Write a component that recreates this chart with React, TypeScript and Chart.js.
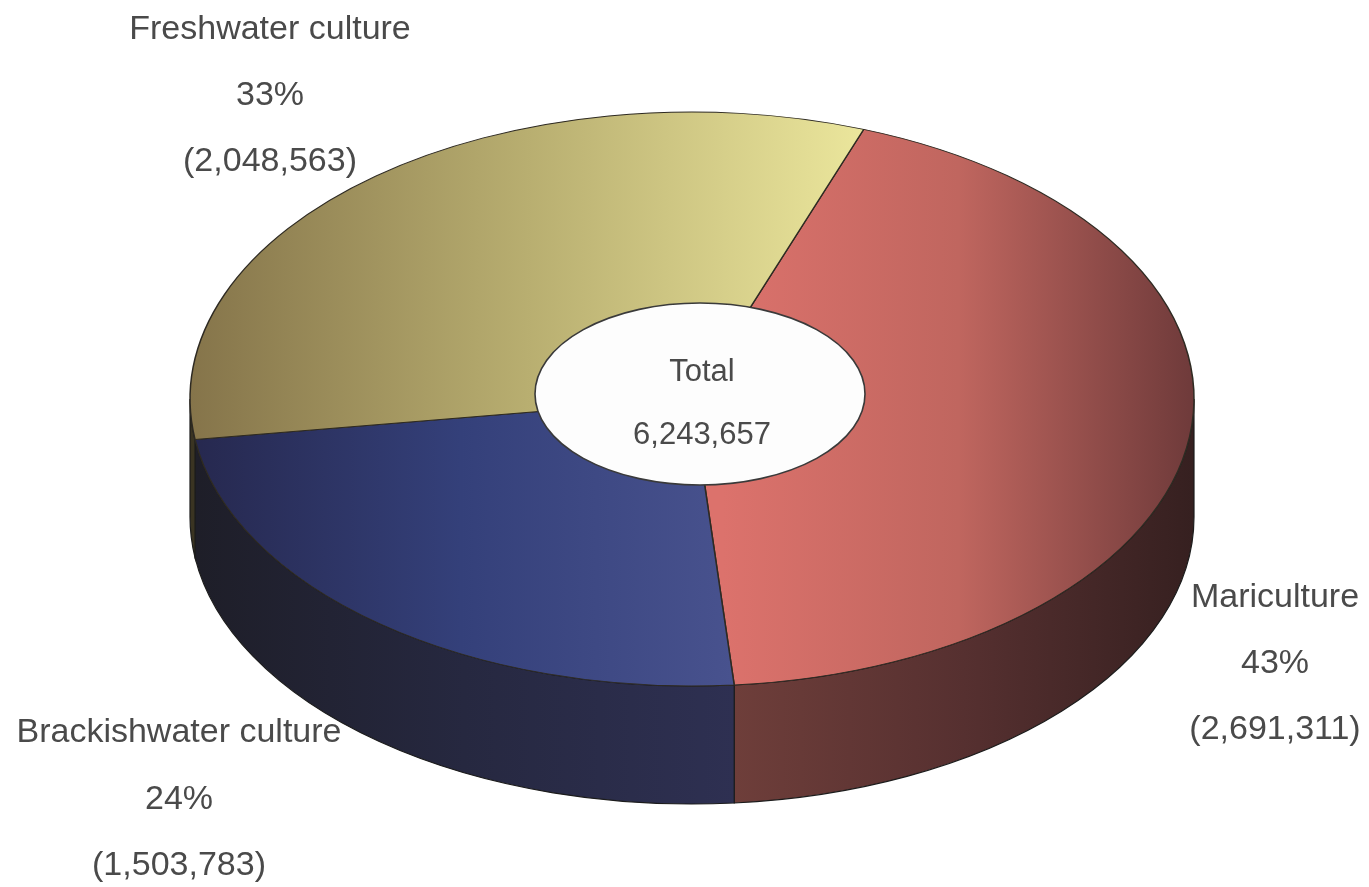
import React, { useEffect, useRef } from "react";
import { Chart, registerables } from "chart.js";

Chart.register(...registerables);

const categories = ["Mariculture", "Brackishwater culture", "Freshwater culture"];
const values = [2691311, 1503783, 2048563];
const percentLabels = ["43%", "24%", "33%"];
const totalLabel = "Total";

// styling (not data)
const topGradients = [
  { from: 0.53, to: 1.0, stops: ["#dc726c", "#c0665f", "#6e3a3a"] },
  { from: 0.0, to: 0.54, stops: ["#26284e", "#34407a", "#48528e"] },
  { from: 0.0, to: 0.67, stops: ["#85744a", "#b8ae70", "#ebe69c"] },
];
const sideGradients = [
  ["#6e3e3a", "#563030", "#362020"],
  ["#1e1e28", "#262840", "#2e3052"],
  ["#3a3422", "#3a3422", "#3a3422"],
];
const labelPos = [
  { x: 1275, ys: [598, 664, 730] },
  { x: 179, ys: [733, 800, 866] },
  { x: 270, ys: [30, 96, 162] },
];
const RX = 502;
const RY = 287;
const DEPTH = 118;

function makeGrad(ctx: CanvasRenderingContext2D, x0: number, x1: number, stops: string[]) {
  const g = ctx.createLinearGradient(x0, 0, x1, 0);
  stops.forEach((c, i) => g.addColorStop(i / (stops.length - 1), c));
  return g;
}

const pie3d = {
  id: "pie3d",
  beforeDatasetsDraw(chart: any) {
    const ctx: CanvasRenderingContext2D = chart.ctx;
    const arcs = chart.getDatasetMeta(0).data as any[];
    const cx = arcs[0].x;
    const cy = arcs[0].y;
    const R = arcs[0].outerRadius;
    // side walls
    arcs.forEach((arc: any, i: number) => {
      const a0 = arc.startAngle;
      const a1 = arc.endAngle;
      for (const k of [-2 * Math.PI, 0, 2 * Math.PI]) {
        const s = Math.max(a0, k);
        const e = Math.min(a1, k + Math.PI);
        if (e <= s) continue;
        const xs = cx + RX * Math.cos(s);
        const xe = cx + RX * Math.cos(e);
        const xmin = Math.min(xs, xe);
        const xmax = Math.max(xs, xe);
        ctx.save();
        ctx.beginPath();
        ctx.ellipse(cx, cy, RX, RY, 0, s, e, false);
        ctx.ellipse(cx, cy + DEPTH, RX, RY, 0, e, s, true);
        ctx.closePath();
        ctx.fillStyle = makeGrad(ctx, xmin, xmax, sideGradients[i]);
        ctx.fill();
        ctx.strokeStyle = "#1c1c1c";
        ctx.lineWidth = 1.2;
        ctx.stroke();
        ctx.restore();
      }
    });
    ctx.save();
    ctx.translate(cx, cy);
    ctx.scale(RX / R, RY / R);
    ctx.translate(-cx, -cy);
  },
  afterDatasetsDraw(chart: any) {
    const ctx: CanvasRenderingContext2D = chart.ctx;
    ctx.restore();
    // centre label ellipse
    ctx.save();
    ctx.beginPath();
    ctx.ellipse(700, 394, 165, 91, 0, 0, Math.PI * 2);
    ctx.fillStyle = "#fdfdfd";
    ctx.fill();
    ctx.strokeStyle = "#3a3a3a";
    ctx.lineWidth = 1.6;
    ctx.stroke();
    const total = values.reduce((a, b) => a + b, 0);
    ctx.fillStyle = "#4a4a4a";
    ctx.textAlign = "center";
    ctx.textBaseline = "middle";
    ctx.font = '31px "Liberation Sans", Arial, sans-serif';
    ctx.fillText(totalLabel, 702, 372);
    ctx.fillText(total.toLocaleString("en-US"), 702, 435);
    // outside labels
    ctx.font = '34px "Liberation Sans", Arial, sans-serif';
    categories.forEach((c, i) => {
      const p = labelPos[i];
      ctx.fillText(c, p.x, p.ys[0]);
      ctx.fillText(percentLabels[i], p.x, p.ys[1]);
      ctx.fillText("(" + values[i].toLocaleString("en-US") + ")", p.x, p.ys[2]);
    });
    ctx.restore();
  },
};

export default function App() {
  const ref = useRef<HTMLCanvasElement>(null);
  useEffect(() => {
    if (!ref.current) return;
    const R = 300;
    const cx = 692;
    const cy = 399;
    const chart = new Chart(ref.current, {
      type: "doughnut",
      data: {
        labels: categories,
        datasets: [
          {
            data: values,
            clip: false as any,
            backgroundColor: (c: any) => {
              const ch = c.chart;
              const area = ch.chartArea;
              if (!area) return "#888";
              const mx = (area.left + area.right) / 2;
              const r = Math.min(area.right - area.left, area.bottom - area.top) / 2;
              const g = topGradients[c.dataIndex];
              return makeGrad(ch.ctx, mx - r + g.from * 2 * r, mx - r + g.to * 2 * r, g.stops);
            },
            borderColor: "#2e2a22",
            borderWidth: 0.9,
          },
        ],
      },
      options: {
        responsive: false,
        animation: false,
        cutout: 0,
        rotation: 20,
        layout: {
          padding: { left: cx - R, right: 1369 - cx - R, top: cy - R, bottom: 887 - cy - R },
        },
        plugins: { legend: { display: false }, tooltip: { enabled: false } },
      },
      plugins: [pie3d],
    });
    return () => chart.destroy();
  }, []);
  return (
    <div style={{ position: "fixed", left: 0, top: 0, width: 1369, height: 887, background: "#fff" }}>
      <canvas ref={ref} width={1369} height={887} />
    </div>
  );
}
